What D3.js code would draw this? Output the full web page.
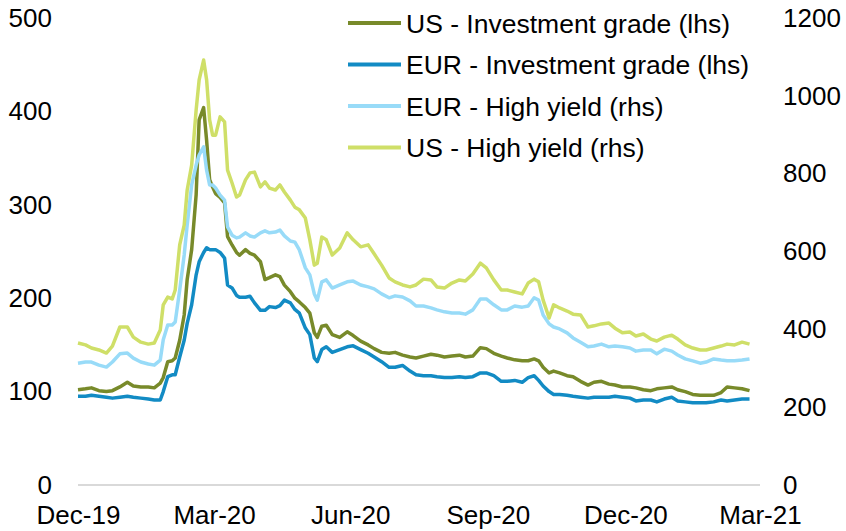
<!DOCTYPE html>
<html>
<head>
<meta charset="utf-8">
<script src="https://d3js.org/d3.v7.min.js"></script>
<style>
  body { margin: 0; background: #ffffff; }
  text { font-family: "Liberation Sans", Arial, sans-serif; font-size: 26px; fill: #000000; }
</style>
</head>
<body>
<div id="chart"></div>
<script>

// data (spreads, bp)
const dates = ["2019-12-31","2020-01-05","2020-01-09","2020-01-14","2020-01-19","2020-01-23","2020-01-28","2020-02-02","2020-02-06","2020-02-11",
  "2020-02-16","2020-02-20","2020-02-24","2020-02-26","2020-02-29","2020-03-03","2020-03-05","2020-03-08","2020-03-11","2020-03-13",
  "2020-03-16","2020-03-19","2020-03-21","2020-03-24","2020-03-26","2020-03-28","2020-03-30","2020-04-01","2020-04-04","2020-04-07",
  "2020-04-09","2020-04-12","2020-04-15","2020-04-17","2020-04-21","2020-04-24","2020-04-27","2020-05-01","2020-05-04","2020-05-07",
  "2020-05-11","2020-05-14","2020-05-17","2020-05-21","2020-05-24","2020-05-27","2020-05-31","2020-06-03","2020-06-06","2020-06-08",
  "2020-06-11","2020-06-14","2020-06-18","2020-06-23","2020-06-28","2020-07-02","2020-07-07","2020-07-12","2020-07-16","2020-07-21",
  "2020-07-26","2020-07-30","2020-08-04","2020-08-09","2020-08-13","2020-08-18","2020-08-23","2020-08-27","2020-09-01","2020-09-06",
  "2020-09-11","2020-09-15","2020-09-20","2020-09-25","2020-09-29","2020-10-04","2020-10-09","2020-10-13","2020-10-18","2020-10-23",
  "2020-10-27","2020-10-31","2020-11-03","2020-11-06","2020-11-10","2020-11-13","2020-11-17","2020-11-22","2020-11-26","2020-12-01",
  "2020-12-06","2020-12-10","2020-12-15","2020-12-20","2020-12-24","2020-12-29","2021-01-03","2021-01-07","2021-01-12","2021-01-17",
  "2021-01-21","2021-01-26","2021-01-31","2021-02-04","2021-02-09","2021-02-14","2021-02-19","2021-02-23","2021-02-28","2021-03-05",
  "2021-03-09","2021-03-14","2021-03-19","2021-03-24"];

const usIG = [102,103,104,101,100,101,105,110,106,105,
  105,104,109,115,132,133,136,155,182,220,
  252,311,391,404,369,327,319,312,308,302,
  266,257,249,246,252,248,246,239,220,222,
  225,223,214,207,200,196,190,184,163,158,
  170,171,161,158,164,160,154,150,146,142,
  141,142,139,137,136,138,140,139,137,138,
  139,137,138,147,146,141,138,136,134,133,
  133,135,133,126,120,122,120,117,116,111,
  107,110,111,108,107,105,105,104,102,101,
  103,104,105,102,100,97,96,96,96,99,
  105,104,103,101];

const eurIG = [95,95,96,95,94,93,94,95,94,93,
  92,91,91,100,116,118,118,137,155,173,
  193,225,239,249,254,252,252,252,249,243,
  214,211,203,201,201,202,195,187,187,191,
  190,192,198,195,188,184,168,161,136,132,
  145,148,142,145,148,149,145,141,137,132,
  126,126,128,122,118,117,117,116,115,115,
  116,115,116,120,120,117,111,111,112,110,
  115,117,112,106,100,97,97,96,95,94,
  93,94,94,94,95,94,93,90,91,91,
  89,92,94,90,89,88,88,88,89,91,
  90,91,92,92];

const eurHY = [313,316,316,308,303,316,337,339,326,316,
  311,308,321,373,411,411,419,501,591,668,
  771,822,848,869,809,771,771,763,745,732,
  663,642,635,637,648,640,637,648,653,648,
  650,655,640,627,624,604,558,540,491,475,
  522,527,506,514,522,524,514,509,504,491,
  481,486,483,473,460,460,455,450,445,442,
  442,439,450,478,478,463,450,450,460,457,
  460,481,475,437,414,406,401,391,378,367,
  355,357,362,355,357,355,352,344,347,347,
  337,349,344,334,324,319,313,316,324,321,
  319,319,321,324];

const usHY = [365,360,352,347,339,357,406,406,380,367,
  362,365,398,463,483,478,501,617,668,758,
  822,964,1041,1092,1041,938,899,899,946,933,
  809,776,740,745,784,802,804,766,779,763,
  758,771,753,732,714,707,686,630,565,570,
  637,630,591,609,648,630,612,617,594,565,
  532,522,514,509,514,529,527,509,506,519,
  527,524,542,570,558,527,501,501,496,491,
  519,529,522,475,429,463,455,447,439,437,
  406,409,414,416,403,391,393,383,388,375,
  370,380,385,375,360,352,347,347,352,357,
  362,360,367,362];

const seriesNames = ["US - Investment grade (lhs)", "EUR - Investment grade (lhs)", "EUR - High yield (rhs)", "US - High yield (rhs)"];
const seriesColors = ["#788a2a", "#128bc4", "#98dbf8", "#cfdf68"];

const leftTicks = [0, 100, 200, 300, 400, 500];
const rightTicks = [0, 200, 400, 600, 800, 1000, 1200];
const xTickDates = ["2019-12-31", "2020-03-31", "2020-06-30", "2020-09-30", "2020-12-31", "2021-03-31"];
const xTickLabels = ["Dec-19", "Mar-20", "Jun-20", "Sep-20", "Dec-20", "Mar-21"];

// layout
const width = 846, height = 531;
const plot = {left: 78, right: 760, top: 18, bottom: 485};

const parse = d3.timeParse("%Y-%m-%d");
const dateObjs = dates.map(parse);

const svg = d3.select("#chart")
  .append("svg")
  .attr("width", width)
  .attr("height", height);

const x = d3.scaleTime()
  .domain([parse(xTickDates[0]), parse(xTickDates[xTickDates.length - 1])])
  .range([plot.left, plot.right]);

const yL = d3.scaleLinear().domain([0, 500]).range([plot.bottom, plot.top]);
const yR = d3.scaleLinear().domain([0, 1200]).range([plot.bottom, plot.top]);

// baseline
svg.append("line")
  .attr("x1", plot.left)
  .attr("x2", plot.right)
  .attr("y1", yL(0))
  .attr("y2", yL(0))
  .attr("stroke", "#d9d9d9")
  .attr("stroke-width", 2);

// left axis
const axL = svg.append("g")
  .attr("transform", `translate(${plot.left},0)`)
  .call(d3.axisLeft(yL).tickValues(leftTicks).tickFormat(d3.format("d")).tickSize(0).tickPadding(26));
axL.select(".domain").remove();

// right axis
const axR = svg.append("g")
  .attr("transform", `translate(${plot.right},0)`)
  .call(d3.axisRight(yR).tickValues(rightTicks).tickFormat(d3.format("d")).tickSize(0).tickPadding(23));
axR.select(".domain").remove();

// bottom axis
const axB = svg.append("g")
  .attr("transform", `translate(0,${plot.bottom})`)
  .call(d3.axisBottom(x)
    .tickValues(xTickDates.map(parse))
    .tickFormat((d, i) => xTickLabels[i])
    .tickSize(0)
    .tickPadding(21));
axB.select(".domain").remove();

svg.selectAll(".tick text")
  .attr("font-family", "'Liberation Sans', Arial, sans-serif")
  .attr("font-size", 26)
  .attr("fill", "#000");

// lines
const series = [
  {values: usIG, y: yL},
  {values: eurIG, y: yL},
  {values: eurHY, y: yR},
  {values: usHY, y: yR}
];

series.forEach(function(s, i) {
  const line = d3.line()
    .x(function(d, j) { return x(dateObjs[j]); })
    .y(function(d) { return s.y(d); });
  svg.append("path")
    .datum(s.values)
    .attr("fill", "none")
    .attr("stroke", seriesColors[i])
    .attr("stroke-width", 3.5)
    .attr("stroke-linejoin", "round")
    .attr("d", line);
});

// legend
const legend = svg.append("g");
seriesNames.forEach(function(name, i) {
  const ly = 23 + i * 41.5;
  legend.append("line")
    .attr("x1", 348).attr("x2", 401)
    .attr("y1", ly).attr("y2", ly)
    .attr("stroke", seriesColors[i])
    .attr("stroke-width", 4);
  legend.append("text")
    .attr("x", 406)
    .attr("y", ly)
    .attr("dy", "0.36em")
    .style("font-size", "26.5px")
    .text(name);
});

</script>
</body>
</html>
